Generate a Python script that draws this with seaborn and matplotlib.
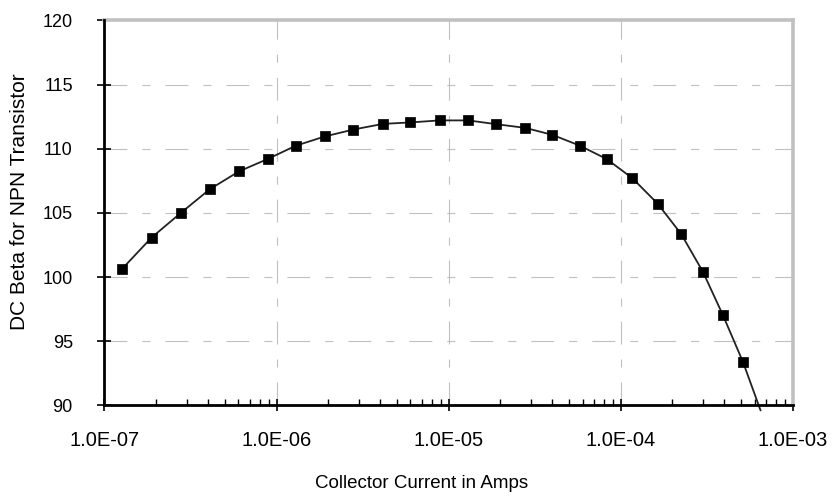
import matplotlib
matplotlib.use("Agg")
import matplotlib.pyplot as plt
import matplotlib.ticker as mticker
import numpy as np
import pandas as pd
import seaborn as sns

# ---- data ----
collector_current = [1.27e-7, 1.88e-7, 2.78e-7, 4.10e-7, 6.06e-7, 8.95e-7,
                     1.29e-6, 1.91e-6, 2.80e-6, 4.16e-6, 5.97e-6, 8.87e-6,
                     1.30e-5, 1.88e-5, 2.78e-5, 4.00e-5, 5.77e-5, 8.29e-5,
                     1.17e-4, 1.64e-4, 2.25e-4, 3.01e-4, 3.93e-4, 5.14e-4]
dc_beta = [100.65, 103.08, 105.00, 106.85, 108.24, 109.22,
           110.23, 110.96, 111.50, 111.94, 112.05, 112.21,
           112.21, 111.92, 111.63, 111.09, 110.25, 109.20,
           107.70, 105.72, 103.34, 100.39, 97.02, 93.37]
# the trend curve continues a little past the last marker
curve_end_current = [6.5e-4]
curve_end_beta = [89.6]

x_ticks = [1e-7, 1e-6, 1e-5, 1e-4, 1e-3]
y_ticks = [90, 95, 100, 105, 110, 115, 120]

sns.set_style("white")
plt.rcParams["font.family"] = ["Liberation Sans", "DejaVu Sans"]
plt.rcParams["lines.scale_dashes"] = False
plt.rcParams["text.color"] = "black"
plt.rcParams["axes.labelcolor"] = "black"
plt.rcParams["xtick.color"] = "black"
plt.rcParams["ytick.color"] = "black"

markers_df = pd.DataFrame({"current": collector_current, "beta": dc_beta})
curve_df = pd.DataFrame({"current": collector_current + curve_end_current,
                         "beta": dc_beta + curve_end_beta})

fig = plt.figure(figsize=(8.35, 4.96), dpi=100)
ax = fig.add_axes([0.1251, 0.1829, 0.9494 - 0.1251, 0.9587 - 0.1829])

ax.set_xscale("log")
ax.set_xlim(1e-7, 1e-3)
ax.set_ylim(90, 120)

grid_style = dict(color="#c0c0c0", linewidth=0.8,
                  linestyle=(0, (16.5, 10.8, 5.8, 10.8)))
ax.grid(True, which="major", axis="both", **grid_style)
ax.set_axisbelow(True)

sns.lineplot(data=curve_df, x="current", y="beta", ax=ax, color="#222222",
             linewidth=1.3, sort=True, estimator=None, clip_on=False, zorder=3)
sns.scatterplot(data=markers_df, x="current", y="beta", ax=ax, marker="s",
                s=60, color="black", edgecolor="black", linewidth=0.5,
                zorder=4, legend=False)

ax.set_xticks(x_ticks)
ax.xaxis.set_major_formatter(mticker.FuncFormatter(lambda v, p: f"{v:.1E}"))
ax.xaxis.set_minor_locator(mticker.LogLocator(base=10, subs=np.arange(2, 10)))
ax.xaxis.set_minor_formatter(mticker.NullFormatter())
ax.set_yticks(y_ticks)

ax.tick_params(axis="x", which="major", direction="inout", length=9, width=1.2,
               pad=14, labelsize=14.5, colors="black", labelcolor="black")
ax.tick_params(axis="x", which="minor", direction="in", length=4.5, width=1.0,
               colors="black")
ax.tick_params(axis="y", which="major", direction="inout", length=9.5, width=1.2,
               pad=18, labelsize=13, colors="black", labelcolor="black")
ax.tick_params(bottom=True, left=True, which="both")
ax.tick_params(axis="y", which="minor", left=False)

for side in ("left", "bottom"):
    ax.spines[side].set_color("black")
    ax.spines[side].set_linewidth(2.0)
    ax.spines[side].set_zorder(5)
for side in ("top", "right"):
    ax.spines[side].set_color("#c0c0c0")
    ax.spines[side].set_linewidth(2.6)

ax.set_xlabel("Collector Current in Amps", fontsize=13.5, va="center",
              color="black")
ax.xaxis.set_label_coords(0.4606, -0.204)
ax.set_ylabel("DC Beta for NPN Transistor", fontsize=15, va="center",
              color="black")
ax.yaxis.set_label_coords(-0.123, 0.529)

fig.savefig("out.png", dpi=100, facecolor="white")
